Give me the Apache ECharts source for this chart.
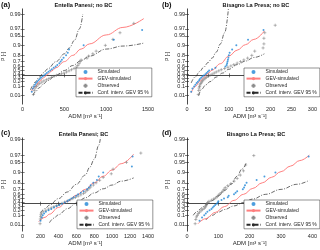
<!DOCTYPE html>
<html><head><meta charset="utf-8">
<script src="https://cdn.jsdelivr.net/npm/echarts@6/dist/echarts.min.js"></script>
<style>html,body{margin:0;padding:0;background:#fff}#c{width:320px;height:250px}</style>
</head><body><div id="c"></div>
<script>
// ---------- tick labels ----------
const pTicks = [0.01,0.1,0.2,0.3,0.4,0.5,0.6,0.7,0.8,0.9,0.95,0.97,0.99];
const xMaxA = 1500, xStepA = 500, xMaxB = 300, xStepB = 50, xMaxC = 1400, xStepC = 200, xMaxD = 400, xStepD = 100;
const titles = ['Entella Panesi; no BC','Bisagno La Presa; no BC','Entella Panesi; BC','Bisagno La Presa; BC'];
const letters = ['(a)','(b)','(c)','(d)'];

// ---------- panel (a) ----------
const simA_x = [110,122,135,148,160,175,190,205,220,238,255,272,290,310,330,350,372,395,415,440,455,470,490,520,540,555,730,1090,1430];
const simA_p = [0.033,0.067,0.1,0.133,0.167,0.2,0.233,0.267,0.3,0.333,0.367,0.4,0.433,0.467,0.5,0.533,0.567,0.6,0.633,0.667,0.7,0.733,0.767,0.8,0.833,0.867,0.9,0.933,0.967];
const gevA_x = [105,150,200,250,300,350,400,500,600,700,800,1000,1200,1450];
const gevA_p = [0.035,0.1,0.2,0.3,0.4,0.49,0.57,0.7,0.8,0.87,0.91,0.953,0.973,0.986];
const obsA_x = [130,140,150,165,185,205,230,255,285,315,345,375,405,435,465,495,525,555,585,615,640,660,675,690,700,770,790,840,880,990,1080,1165,1330];
const obsA_p = [0.015,0.045,0.075,0.1,0.13,0.16,0.19,0.22,0.25,0.28,0.31,0.34,0.37,0.39,0.41,0.43,0.46,0.49,0.52,0.55,0.58,0.62,0.66,0.7,0.73,0.76,0.79,0.82,0.85,0.9,0.935,0.96,0.98];
const ciUpA_x = [95,120,150,200,250,300,400,500,560,620,680,720];
const ciUpA_p = [0.05,0.11,0.19,0.32,0.44,0.54,0.7,0.82,0.88,0.93,0.97,0.99];
const ciLoA_x = [125,150,200,250,300,400,500,600,700,800,1000,1200,1450];
const ciLoA_p = [0.012,0.03,0.08,0.15,0.23,0.37,0.5,0.62,0.72,0.79,0.87,0.895,0.915];

// ---------- panel (b) ----------
const simB_x = [10,13,17,20,23,26,29,31,34,37,40,44,47,50,53,60,68,92,95,96,97,98,99,100,102,108,118,146,183];
const simB_p = [0.033,0.067,0.1,0.133,0.167,0.2,0.233,0.267,0.3,0.333,0.367,0.4,0.433,0.467,0.5,0.533,0.567,0.6,0.633,0.667,0.7,0.733,0.767,0.8,0.833,0.867,0.9,0.933,0.967];
const gevB_x = [10,20,30,40,50,60,80,100,120,140,160,185];
const gevB_p = [0.025,0.1,0.2,0.31,0.42,0.51,0.66,0.79,0.86,0.905,0.935,0.965];
const obsB_x = [27,28,29,30,31,33,35,37,40,43,46,50,55,60,65,70,76,82,90,98,105,112,120,128,136,145,155,162,182,184,184,186,211];
const obsB_p = [0.015,0.045,0.075,0.1,0.13,0.16,0.19,0.22,0.25,0.28,0.31,0.34,0.37,0.4,0.43,0.46,0.49,0.52,0.55,0.58,0.61,0.64,0.67,0.7,0.73,0.76,0.8,0.85,0.88,0.91,0.94,0.96,0.977];
const ciUpB_x = [10,20,30,40,50,60,70,80,90,100];
const ciUpB_p = [0.17,0.33,0.47,0.58,0.68,0.76,0.84,0.91,0.96,0.995];
const ciLoB_x = [28,35,45,55,70,85,100,120,140,160,185];
const ciLoB_p = [0.01,0.06,0.13,0.2,0.32,0.43,0.53,0.64,0.71,0.77,0.82];

// ---------- panel (c) ----------
const simC_x = [200,215,225,240,260,290,320,350,380,410,440,470,500,520,545,570,600,620,650,680,720,740,760,790,830,850,900,1220,1228];
const simC_p = [0.033,0.067,0.1,0.133,0.167,0.2,0.233,0.267,0.3,0.333,0.367,0.4,0.433,0.467,0.5,0.533,0.567,0.6,0.633,0.667,0.7,0.733,0.767,0.8,0.833,0.867,0.9,0.933,0.967];
const gevC_x = [180,250,300,400,500,600,700,800,900,1000,1100,1240];
const gevC_p = [0.026,0.07,0.12,0.27,0.43,0.58,0.7,0.8,0.87,0.915,0.945,0.972];
const obsC_x = [195,198,202,205,210,230,260,290,320,350,380,410,440,470,500,530,560,590,620,650,680,700,720,740,760,790,820,860,900,990,1010,1160,1320];
const obsC_p = [0.015,0.05,0.08,0.11,0.14,0.17,0.2,0.23,0.26,0.29,0.32,0.35,0.38,0.41,0.44,0.47,0.5,0.53,0.56,0.59,0.62,0.65,0.68,0.71,0.74,0.77,0.8,0.83,0.86,0.89,0.92,0.95,0.974];
const ciUpC_x = [200,250,300,400,500,600,700,750,800,850,880];
const ciUpC_p = [0.15,0.24,0.33,0.5,0.65,0.78,0.88,0.93,0.96,0.985,0.995];
const ciLoC_x = [300,350,400,500,600,700,800,900,1000,1100,1240];
const ciLoC_p = [0.02,0.06,0.11,0.24,0.38,0.52,0.63,0.71,0.77,0.82,0.855];

// ---------- panel (d) ----------
const simD_x = [40,48,55,60,65,72,78,82,86,90,95,98,100,110,118,130,133,150,155,160,178,182,185,190,222,247,282,388];
const simD_p = [0.033,0.067,0.1,0.133,0.167,0.2,0.233,0.267,0.3,0.333,0.367,0.4,0.433,0.467,0.5,0.533,0.567,0.6,0.633,0.667,0.7,0.733,0.767,0.8,0.833,0.867,0.9,0.967];
const gevD_x = [35,60,90,120,150,180,210,240,270,300,330,360,390];
const gevD_p = [0.015,0.054,0.153,0.295,0.455,0.6,0.717,0.8,0.861,0.905,0.935,0.956,0.97];
const obsD_x = [26,28,30,33,36,40,45,50,55,58,60,62,64,66,70,78,85,92,97,100,105,110,115,118,122,130,140,150,160,170,180,187,213];
const obsD_p = [0.015,0.045,0.075,0.1,0.13,0.16,0.19,0.22,0.25,0.28,0.31,0.34,0.37,0.4,0.43,0.46,0.49,0.52,0.55,0.58,0.61,0.64,0.67,0.7,0.73,0.76,0.79,0.82,0.85,0.88,0.91,0.94,0.969];
const ciUpD_x = [20,30,40,50,60,80,100,120,140,160,175,190];
const ciUpD_p = [0.1,0.16,0.22,0.28,0.34,0.45,0.57,0.68,0.78,0.87,0.92,0.95];
const ciLoD_x = [60,80,100,120,150,180,210,250,300,350,390];
const ciLoD_p = [0.04,0.1,0.16,0.22,0.31,0.4,0.49,0.6,0.7,0.78,0.83];

// ---------- build ----------
const FONT = 'Liberation Sans, Arial, Helvetica, sans-serif';
const gum = p => -Math.log(-Math.log(p));
const pts = (xs, ps) => xs.map((x, i) => [x, gum(ps[i])]);
const PLUS = 'path://M0,5L10,5M5,0L5,10';
const C_SIM = '#1f86d6', C_GEV = '#ff7f7f', C_OBS = '#6f6f6f', C_CI = '#2a2a2a';
const CI_DASH = [4,1.5,1,1.5];

const panels = [
  {grid:{left:19,top:9,width:129,height:95}, xmax:xMaxA, xstep:xStepA, ymin:-2.15, ymax:4.98, leg:[76,68],
   sim:[simA_x,simA_p], gev:[gevA_x,gevA_p], obs:[obsA_x,obsA_p], up:[ciUpA_x,ciUpA_p], lo:[ciLoA_x,ciLoA_p], tx:83.5, ty:5, lx:1, ly:5},
  {grid:{left:187,top:9,width:128,height:95}, xmax:xMaxB, xstep:xStepB, ymin:-2.15, ymax:4.98, leg:[244,68],
   sim:[simB_x,simB_p], gev:[gevB_x,gevB_p], obs:[obsB_x,obsB_p], up:[ciUpB_x,ciUpB_p], lo:[ciLoB_x,ciLoB_p], tx:256, ty:5, lx:162, ly:5},
  {grid:{left:19,top:138,width:129,height:93}, xmax:xMaxC, xstep:xStepC, ymin:-1.96, ymax:4.72, leg:[77,200],
   sim:[simC_x,simC_p], gev:[gevC_x,gevC_p], obs:[obsC_x,obsC_p], up:[ciUpC_x,ciUpC_p], lo:[ciLoC_x,ciLoC_p], tx:83.5, ty:134, lx:1, ly:133},
  {grid:{left:187,top:138,width:128,height:93}, xmax:xMaxD, xstep:xStepD, ymin:-1.96, ymax:4.72, leg:[244,200],
   sim:[simD_x,simD_p], gev:[gevD_x,gevD_p], obs:[obsD_x,obsD_p], up:[ciUpD_x,ciUpD_p], lo:[ciLoD_x,ciLoD_p], tx:256, ty:134, lx:162, ly:133}
];

const tickG = pTicks.map(gum);
const axLine = {show:true, lineStyle:{color:'#262626', width:0.6}};
const axTick = {show:true, inside:true, length:2, lineStyle:{color:'#262626', width:0.6}};
const labStyle = {fontSize:5.5, fontFamily:FONT, color:'#262626'};

const grid = [], xAxis = [], yAxis = [], series = [], legend = [], graphic = [];
panels.forEach((pn, i) => {
  grid.push(Object.assign({containLabel:false}, pn.grid));
  xAxis.push({type:'value', gridIndex:i, min:0, max:pn.xmax, interval:pn.xstep, position:'bottom',
    axisLine:axLine, axisTick:axTick, splitLine:{show:false},
    axisLabel:Object.assign({margin:2, formatter:v => String(v)}, labStyle),
    name:'ADM [m³ s⁻¹]', nameLocation:'middle', nameGap:9,
    nameTextStyle:{fontSize:6, fontFamily:FONT, color:'#262626'}});
  yAxis.push({type:'value', gridIndex:i, min:pn.ymin, max:pn.ymax, position:'left',
    axisLine:axLine, splitLine:{show:false},
    axisTick:Object.assign({customValues:tickG}, axTick),
    axisLabel:Object.assign({margin:2, customValues:tickG,
      formatter:v => String(+Math.exp(-Math.exp(-v)).toFixed(2))}, labStyle),
    name:'P [-]', nameLocation:'middle', nameGap:9,
    nameTextStyle:{fontSize:5, fontFamily:FONT, color:'#262626'}});
});
panels.forEach((pn, i) => {
  xAxis.push({type:'value', gridIndex:i, min:0, max:pn.xmax, interval:pn.xstep, position:'top',
    axisLine:axLine, axisTick:axTick, axisLabel:{show:false}, splitLine:{show:false}});
  yAxis.push({type:'value', gridIndex:i, min:pn.ymin, max:pn.ymax, position:'right',
    axisLine:axLine, axisTick:Object.assign({customValues:tickG}, axTick),
    axisLabel:{show:false}, splitLine:{show:false}});
});
panels.forEach((pn, i) => {
  const base = {xAxisIndex:i, yAxisIndex:i};
  series.push(Object.assign({type:'line', name:'Conf. interv. GEV 95 %', data:pts(pn.up[0],pn.up[1]), symbol:'none',
    smooth:0.4, smoothMonotone:'x', lineStyle:{color:C_CI, width:0.7, type:CI_DASH}, itemStyle:{color:C_CI}, z:2}, base));
  series.push(Object.assign({type:'line', name:'Conf. interv. GEV 95 %', data:pts(pn.lo[0],pn.lo[1]), symbol:'none',
    smooth:0.4, smoothMonotone:'x', lineStyle:{color:C_CI, width:0.7, type:CI_DASH}, itemStyle:{color:C_CI}, z:2}, base));
  series.push(Object.assign({type:'line', name:'GEV-simulated', data:pts(pn.gev[0],pn.gev[1]), symbol:'none',
    smooth:0.4, smoothMonotone:'x', lineStyle:{color:C_GEV, width:1}, itemStyle:{color:C_GEV}, z:3}, base));
  series.push(Object.assign({type:'scatter', name:'Observed', data:pts(pn.obs[0],pn.obs[1]), symbol:PLUS, symbolSize:3.2,
    itemStyle:{color:'transparent', borderColor:C_OBS, borderWidth:0.6}, z:4}, base));
  series.push(Object.assign({type:'scatter', name:'Simulated', data:pts(pn.sim[0],pn.sim[1]), symbol:'circle', symbolSize:2,
    itemStyle:{color:C_SIM}, z:5}, base));
  legend.push({left:pn.leg[0], top:pn.leg[1], orient:'vertical', itemWidth:14, itemHeight:4, itemGap:1.6,
    padding:[1.5,3,1.5,1.5], borderColor:'#262626', borderWidth:0.5, backgroundColor:'#fff', selectedMode:false,
    textStyle:{fontSize:5, fontFamily:FONT, color:'#262626'}, z:10,
    data:[{name:'Simulated', icon:'circle'}, {name:'GEV-simulated'}, {name:'Observed', icon:PLUS}, {name:'Conf. interv. GEV 95 %'}]});
  graphic.push({type:'text', x:pn.tx, y:pn.ty, style:{text:titles[i], font:'bold 5.6px '+FONT, fill:'#111', textAlign:'center', textVerticalAlign:'middle'}});
  graphic.push({type:'text', x:pn.lx, y:pn.ly, style:{text:letters[i], font:'bold 7.5px '+FONT, fill:'#111', textAlign:'left', textVerticalAlign:'middle'}});
});

const chart = echarts.init(document.getElementById('c'), null, {renderer:'canvas'});
chart.setOption({animation:false, backgroundColor:'#fff', grid, xAxis, yAxis, series, legend, graphic});
</script></body></html>
